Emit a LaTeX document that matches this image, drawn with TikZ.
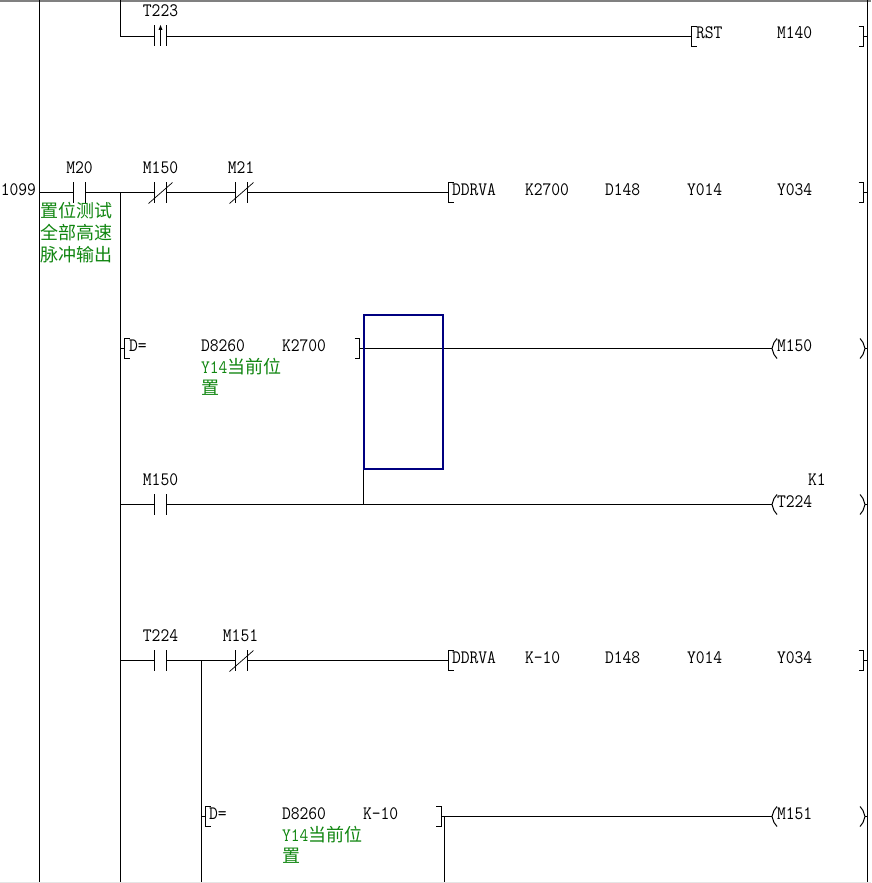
\documentclass[tikz,border=0pt]{standalone}
\usepackage{fontspec}
\setmonofont[FakeStretch=0.9]{Latin Modern Mono}
\newfontfamily\cjk{Noto Sans CJK SC}
\definecolor{notegreen}{RGB}{16,134,16}
\definecolor{selblue}{RGB}{0,0,128}
\definecolor{paleyellow}{RGB}{255,245,200}
\tikzset{
  wire/.style={black, line width=1pt},
  lbl/.style={inner sep=0pt, outer sep=0pt, anchor=base west, font=\fontsize{19}{20}\selectfont\ttfamily},
  clbl/.style={lbl, anchor=base},
  note/.style={lbl, text=notegreen},
  contactbox/.style={inner sep=0pt, outer sep=0pt, minimum width=12pt, minimum height=21pt}
}
\begin{document}
\begin{tikzpicture}[x=1pt, y=-1pt, line width=1pt]
  \def\nocontact#1#2#3{
    \node[contactbox] (#1) at (#2,#3) {};
    \draw[wire] (#1.north west)--(#1.south west) (#1.north east)--(#1.south east);
  }
  \def\nccontact#1#2#3{
    \nocontact{#1}{#2}{#3}
    \draw[wire, line width=.7pt] ([shift={(-12,11)}]#1.center)--([shift={(12,-10)}]#1.center);
  }
  \def\openbr#1#2#3{
    \coordinate (#1) at (#2,#3);
    \draw[wire] ([shift={(5,-10)}]#1)--([shift={(0,-10)}]#1)--([shift={(0,10)}]#1)--([shift={(5,10)}]#1);
  }
  \def\closebr#1#2#3{
    \coordinate (#1) at (#2,#3);
    \draw[wire] ([shift={(-5,-10)}]#1)--([shift={(0,-10)}]#1)--([shift={(0,10)}]#1)--([shift={(-5,10)}]#1);
  }
  \def\opencoil#1#2#3{
    \coordinate (#1) at (#2,#3);
    \draw[wire] ([shift={(5,-10)}]#1)--([shift={(2,-6)}]#1)--(#1)--([shift={(2,6)}]#1)--([shift={(5,10)}]#1);
  }
  \def\closecoil#1#2#3{
    \coordinate (#1) at (#2,#3);
    \draw[wire] ([shift={(-5,-10)}]#1)--([shift={(-2,-6)}]#1)--(#1)--([shift={(-2,6)}]#1)--([shift={(-5,10)}]#1);
  }
  \useasboundingbox (0,0) rectangle (871,883);
  \fill[white] (0,0) rectangle (871,883);
  \fill[gray] (0,0) rectangle (871,2);
  \fill[black!10] (0,882) rectangle (871,883);

  % rails
  \coordinate (railLtop) at (39.5,0);
  \coordinate (railLbot) at (39.5,882);
  \coordinate (railRtop) at (867.5,0);
  \coordinate (railRbot) at (867.5,882);
  \draw[wire] (railLtop)--(railLbot);
  \draw[wire] (railRtop)--(railRbot);

  % T223
  \coordinate (busTop) at (120.5,0);
  \coordinate (busA) at (120.5,36.5);
  \nocontact{T223}{160.5}{36}
  \draw[wire] (160.5,46)--(160.5,27);
  \fill (160.5,25) -- (158.5,30) -- (162.5,30) -- cycle;
  \openbr{rstL}{691.5}{36.5}
  \closebr{rstR}{863.5}{36.5}
  \draw[wire] (busTop)--(busA)--(T223.west |- busA);
  \draw[wire] (T223.east |- busA)--(rstL);
  \draw[wire] (rstR)--(rstR -| railRtop);
  \node[clbl] (lblT223) at (160.5,17) {T223};
  \node[lbl] (lblRst) at (696,39) {RST};
  \node[lbl] (lblM140) at (777,39) {M140};

  % 1099
  \node[lbl, anchor=base east] (lbl1099) at (36,195) {1099};
  \coordinate (railA) at (39.5,192.5);
  \coordinate (busB) at (120.5,192.5);
  \coordinate (busBot) at (120.5,882);
  \nocontact{M20}{79.5}{192.5}
  \nccontact{M150a}{160.5}{192.5}
  \nccontact{M21}{241.5}{192.5}
  \openbr{ddrA}{448.5}{192.5}
  \closebr{ddrAr}{863.5}{192.5}
  \draw[wire] (railA)--(M20.west);
  \draw[wire] (M20.east)--(M150a.west);
  \draw[wire] (M150a.east)--(M21.west);
  \draw[wire] (M21.east)--(ddrA);
  \draw[wire] (ddrAr)--(ddrAr -| railRtop);
  \draw[wire] (busB)--(busBot);
  \node[clbl] (lblM20) at (79.5,173) {M20};
  \node[clbl] (lblM150a) at (160.5,173) {M150};
  \node[clbl] (lblM21) at (241,173) {M21};
  \node[note, font=\fontsize{18}{18}\selectfont\cjk] (noteA) at (40,217) {置位测试};
  \node[note, font=\fontsize{18}{18}\selectfont\cjk] (noteB) at (40,239) {全部高速};
  \node[note, font=\fontsize{18}{18}\selectfont\cjk] (noteC) at (40,261) {脉冲输出};
  \foreach \n/\t/\x in {a/DDRVA/452,b/K2700/525,c/D148/605,d/Y014/687,e/Y034/777}
    \node[lbl] (ddrA\n) at (\x,195) {\t};

  % D= K2700
  \openbr{cmpA}{124.5}{348.5}
  \closebr{cmpAr}{359.5}{348.5}
  \coordinate (busCmpA) at (120.5,348.5);
  \coordinate (joinA) at (363.5,348.5);
  \coordinate (joinB) at (363.5,469);
  \coordinate (joinC) at (363.5,504.5);
  \opencoil{coilA}{772}{348.5}
  \closecoil{coilAr}{865}{348.5}
  \draw[paleyellow] (joinA)--(joinB);
  \draw[wire] (joinB)--(joinC);
  \draw[wire] (busCmpA)--(cmpA);
  \draw[wire] (cmpAr)--(joinA)--(coilA);
  \draw[wire] (coilAr)--(coilAr -| railRtop);
  \node[lbl] (lblEqA) at (129,351) {D=};
  \node[lbl] (lblD8260a) at (201,351) {D8260};
  \node[lbl] (lblK2700) at (282,351) {K2700};
  \node[lbl] (lblCoilA) at (777,351) {M150};
  \node[note] (noteY14a) at (201,373) {Y14{\cjk\fontsize{18}{18}\selectfont 当前位}};
  \node[note, font=\fontsize{18}{18}\selectfont\cjk] (noteY14b) at (201,394) {置};
  \draw[selblue, line width=2pt] (364.3,315) rectangle (443,469);

  % M150 T224
  \coordinate (busC) at (120.5,504.5);
  \nocontact{M150b}{160.5}{504.5}
  \opencoil{coilB}{772}{504.5}
  \closecoil{coilBr}{865}{504.5}
  \draw[wire] (busC)--(M150b.west);
  \draw[wire] (M150b.east)--(coilB);
  \draw[wire] (coilBr)--(coilBr -| railRtop);
  \node[clbl] (lblM150b) at (160.5,485) {M150};
  \node[lbl] (lblK1) at (808,485) {K1};
  \node[lbl] (lblCoilB) at (777,507) {T224};

  % T224 M151
  \coordinate (busD) at (120.5,660.5);
  \coordinate (busE) at (201.5,660.5);
  \coordinate (busEbot) at (201.5,882);
  \nocontact{T224}{160.5}{660.5}
  \nccontact{M151}{241.5}{660.5}
  \openbr{ddrB}{448.5}{660.5}
  \closebr{ddrBr}{863.5}{660.5}
  \draw[wire] (busD)--(T224.west);
  \draw[wire] (T224.east)--(M151.west);
  \draw[wire] (M151.east)--(ddrB);
  \draw[wire] (ddrBr)--(ddrBr -| railRtop);
  \draw[wire] (busE)--(busEbot);
  \node[clbl] (lblT224) at (160.5,641) {T224};
  \node[clbl] (lblM151) at (240.5,641) {M151};
  \foreach \n/\t/\x in {a/DDRVA/452,b/K-10/525,c/D148/605,d/Y014/687,e/Y034/777}
    \node[lbl] (ddrB\n) at (\x,663) {\t};

  % D= K-10
  \openbr{cmpB}{205.5}{816.5}
  \closebr{cmpBr}{441}{816.5}
  \coordinate (busCmpB) at (201.5,816.5);
  \coordinate (joinD) at (444.5,816.5);
  \coordinate (joinE) at (444.5,882);
  \opencoil{coilC}{772}{816.5}
  \closecoil{coilCr}{865}{816.5}
  \draw[wire] (busCmpB)--(cmpB);
  \draw[wire] (cmpBr)--(joinD)--(coilC);
  \draw[wire] (joinD)--(joinE);
  \draw[wire] (coilCr)--(coilCr -| railRtop);
  \node[lbl] (lblEqB) at (209,819) {D=};
  \node[lbl] (lblD8260b) at (282,819) {D8260};
  \node[lbl] (lblK10) at (363,819) {K-10};
  \node[lbl] (lblCoilC) at (777,819) {M151};
  \node[note] (noteY14c) at (282,841) {Y14{\cjk\fontsize{18}{18}\selectfont 当前位}};
  \node[note, font=\fontsize{18}{18}\selectfont\cjk] (noteY14d) at (282,862) {置};
\end{tikzpicture}
\end{document}
